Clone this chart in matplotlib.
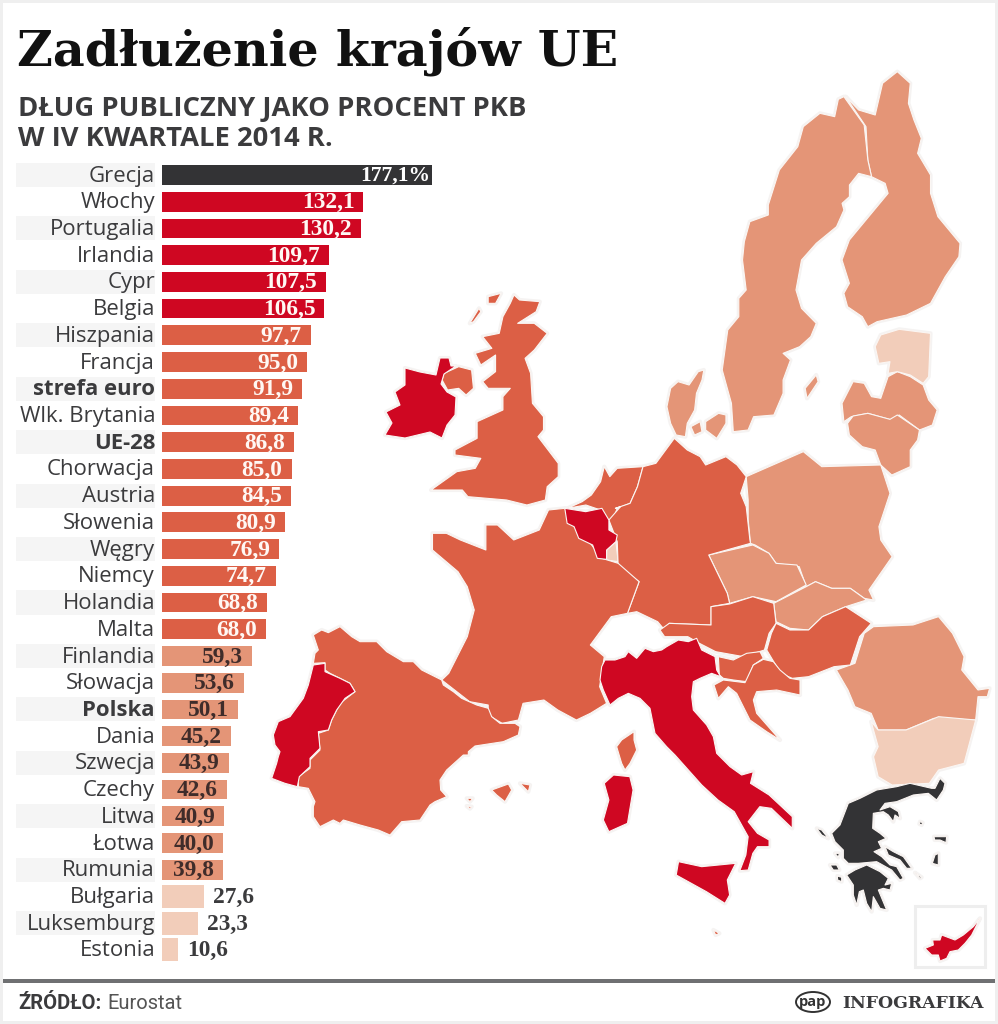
#!/usr/bin/env python3
"""Zadluzenie krajow UE: bar ranking on the left, choropleth sketch on the right."""

import matplotlib
matplotlib.use("Agg")
import matplotlib.patheffects as pe
import matplotlib.pyplot as plt
from matplotlib.patches import Ellipse, Polygon, Rectangle

W, H = 998, 1024

countries = ["Grecja", "Włochy", "Portugalia", "Irlandia", "Cypr", "Belgia", "Hiszpania",
             "Francja", "strefa euro", "Wlk. Brytania", "UE-28", "Chorwacja", "Austria",
             "Słowenia", "Węgry", "Niemcy", "Holandia", "Malta", "Finlandia", "Słowacja",
             "Polska", "Dania", "Szwecja", "Czechy", "Litwa", "Łotwa", "Rumunia",
             "Bułgaria", "Luksemburg", "Estonia"]
debt = [177.1, 132.1, 130.2, 109.7, 107.5, 106.5, 97.7, 95.0, 91.9, 89.4, 86.8, 85.0, 84.5,
        80.9, 76.9, 74.7, 68.8, 68.0, 59.3, 53.6, 50.1, 45.2, 43.9, 42.6, 40.9, 40.0, 39.8,
        27.6, 23.3, 10.6]
bold_rows = ["strefa euro", "UE-28", "Polska"]

DARK = "#333335"
RED = "#cf0722"
HIGH = "#dc5f45"
MID = "#e49577"
LOW = "#f2cdba"
TEXT = "#3b3b3d"


def band(value):
    if value > 150:
        return DARK
    if value > 100:
        return RED
    if value >= 60:
        return HIGH
    if value >= 30:
        return MID
    return LOW


def z2(points):
    return [(420 + x / 2.713, 60 + y / 3) for x, y in points]


def z3(points):
    return [(270 + x / 2.154, 500 + y / 3) for x, y in points]


def crop(x0, y0, points):
    return [(x0 + x / 3, y0 + y / 3) for x, y in points]


finland = z2([(1295, 35), (1330, 70), (1325, 130), (1340, 180), (1360, 235), (1350, 280), (1385, 345),
              (1385, 400), (1405, 470), (1465, 550), (1462, 590), (1425, 650), (1385, 730), (1320, 765),
              (1240, 785), (1215, 800), (1200, 770), (1160, 740), (1150, 700), (1165, 670), (1145, 600),
              (1165, 540), (1240, 440), (1270, 400), (1262, 370), (1225, 350), (1215, 300), (1210, 200),
              (1155, 110), (1190, 150), (1235, 165), (1255, 70)])
sweden = z2([(1135, 118), (1150, 110), (1205, 195), (1215, 300), (1225, 350), (1190, 340), (1165, 375),
             (1165, 410), (1145, 430), (1150, 450), (1130, 500), (1075, 550), (1035, 600), (1020, 690),
             (1035, 745), (1075, 790), (1060, 830), (1030, 860), (985, 880), (1005, 900), (985, 960),
             (985, 1000), (960, 1065), (905, 1070), (890, 1110), (850, 1115), (845, 1030), (820, 930),
             (835, 810), (865, 770), (865, 715), (885, 690), (875, 600), (880, 545), (895, 485),
             (945, 465), (945, 435), (975, 330), (1025, 260), (1040, 200), (1085, 160), (1125, 170)])
gotland = z2([(1045, 985), (1075, 945), (1080, 965), (1050, 1015)])
estonia = z2([(1250, 825), (1300, 808), (1385, 820), (1380, 950), (1365, 970), (1330, 945), (1295, 935),
              (1270, 940), (1275, 905), (1245, 910), (1235, 860)])
latvia = z2([(1175, 965), (1205, 970), (1225, 1010), (1250, 1015), (1270, 950), (1295, 935), (1330, 950),
             (1365, 975), (1380, 1020), (1403, 1050), (1390, 1095), (1355, 1110), (1300, 1065),
             (1280, 1080), (1215, 1060), (1170, 1070), (1150, 1085), (1145, 1030)])
lithuania = z2([(1160, 1090), (1175, 1068), (1215, 1060), (1275, 1078), (1295, 1065), (1355, 1110),
                (1350, 1140), (1330, 1170), (1330, 1220), (1280, 1245), (1250, 1215), (1235, 1170),
                (1200, 1160), (1165, 1125)])
jutland = z2([(670, 1040), (680, 985), (700, 965), (730, 975), (755, 935), (770, 930), (765, 960),
              (750, 1000), (745, 1050), (725, 1090), (720, 1130), (695, 1125), (680, 1090)])
zealand = z2([(775, 1085), (810, 1060), (830, 1065), (830, 1090), (805, 1135), (775, 1110)])
funen = z2([(735, 1100), (760, 1085), (765, 1115), (745, 1125)])
ireland = [(405, 368), (420, 372), (436, 375), (440, 358), (449, 358), (451, 366), (456, 366), (444, 374),
           (441, 384), (447, 392), (456, 397), (455, 415), (447, 425), (442, 438), (430, 432), (405, 438),
           (385, 435), (392, 423), (386, 412), (400, 405), (395, 392), (405, 385)]
n_ireland = z2([(65, 940), (105, 920), (140, 930), (145, 985), (125, 1005), (105, 985), (75, 990), (60, 960)])
britain = z2([(255, 705), (270, 720), (325, 725), (315, 755), (265, 790), (310, 790), (345, 820), (310, 870),
              (285, 895), (300, 940), (305, 1030), (335, 1070), (335, 1110), (320, 1130), (375, 1210),
              (375, 1250), (345, 1280), (340, 1320), (290, 1335), (235, 1320), (130, 1310), (115, 1290),
              (30, 1290), (100, 1235), (150, 1225), (165, 1195), (95, 1185), (95, 1170), (155, 1135),
              (155, 1085), (225, 1050), (225, 1010), (245, 985), (185, 985), (170, 965), (205, 935),
              (205, 885), (165, 915), (150, 880), (195, 865), (170, 830), (215, 820), (225, 770), (245, 730)])
hebrides1 = z2([(185, 710), (220, 700), (205, 730), (185, 730)])
hebrides2 = z2([(135, 790), (160, 745), (165, 755), (145, 785)])
netherlands = z2([(465, 1305), (490, 1265), (500, 1220), (515, 1250), (535, 1225), (605, 1220), (590, 1280),
                  (570, 1330), (535, 1345), (525, 1375), (535, 1400), (510, 1385), (490, 1350), (450, 1335),
                  (400, 1345), (440, 1325)])
belgium = z3([(635, 25), (680, 35), (715, 25), (730, 60), (730, 90), (748, 105), (745, 125), (725, 150),
              (725, 178), (705, 175), (695, 135), (665, 115), (655, 80), (640, 70)])
luxembourg = z3([(725, 150), (745, 125), (750, 185), (725, 180)])
germany = (z2([(605, 1220), (640, 1210), (690, 1135), (725, 1170), (760, 1190), (775, 1215), (830, 1190),
               (860, 1215), (885, 1250), (870, 1300), (885, 1340), (895, 1440)])
           + z3([(1035, 130), (945, 165), (985, 280), (990, 310), (950, 320), (950, 375), (860, 370), (850, 390),
                 (835, 365), (790, 335), (770, 340), (795, 245), (750, 200), (748, 125), (730, 60), (755, 20)])
           + z2([(530, 1345), (570, 1330), (590, 1280)]))
poland = (z2([(885, 1250), (1040, 1175), (1090, 1220), (1250, 1215), (1275, 1300), (1245, 1400), (1250, 1440)])
          + z3([(1340, 170), (1290, 270), (1300, 300), (1280, 295), (1250, 265), (1210, 265), (1175, 245),
                (1155, 260), (1140, 200), (1090, 190), (1075, 160), (1045, 135), (1035, 130), (1030, 60), (1030, 0)]))
czechia = z3([(945, 165), (1040, 135), (1075, 160), (1090, 190), (1135, 195), (1155, 255), (1090, 305),
              (1040, 290), (990, 310), (985, 280)])
slovakia = z3([(1155, 260), (1175, 245), (1210, 265), (1250, 265), (1285, 300), (1240, 320), (1190, 350),
               (1160, 390), (1120, 385), (1090, 365), (1085, 310)])
austria = z3([(990, 312), (1040, 290), (1085, 310), (1090, 370), (1075, 400), (1065, 450), (1020, 470),
              (960, 455), (925, 430), (900, 410), (850, 410), (840, 390), (860, 370), (950, 375), (950, 320)])
hungary = z3([(1090, 370), (1120, 390), (1160, 390), (1190, 350), (1240, 320), (1295, 370), (1270, 410),
              (1250, 495), (1215, 500), (1160, 530), (1125, 535), (1100, 520), (1070, 450), (1080, 400)])
slovenia = crop(560, 600, [(475, 170), (520, 180), (560, 160), (600, 155), (610, 175), (580, 195), (560, 245),
                           (520, 240), (490, 235), (478, 225)])
croatia = crop(560, 600, [(610, 178), (640, 185), (660, 210), (690, 235), (720, 240), (720, 285), (650, 270),
                          (590, 275), (580, 300), (590, 340), (660, 420), (620, 395), (570, 360), (530, 280),
                          (505, 260), (475, 295), (462, 255), (490, 240), (555, 248), (580, 195)])
romania = z3([(1300, 380), (1385, 375), (1440, 350), (1470, 400), (1495, 470), (1490, 510), (1525, 570),
              (1550, 565), (1545, 590), (1525, 590), (1520, 660), (1430, 655), (1370, 690), (1310, 690),
              (1295, 640), (1260, 620), (1245, 570), (1220, 510), (1260, 490), (1280, 400)])
bulgaria = z3([(1295, 665), (1310, 690), (1370, 690), (1440, 650), (1520, 660), (1495, 790), (1440, 810),
               (1420, 850), (1340, 855), (1310, 830), (1300, 770), (1310, 740)])
greece = crop(800, 770, [(405, 55), (420, 25), (435, 40), (430, 60), (410, 90), (385, 70), (340, 75), (290, 95),
                         (255, 100), (240, 120), (270, 110), (295, 125), (300, 145), (285, 135), (280, 155),
                         (265, 135), (250, 125), (220, 130), (218, 175), (240, 190), (258, 205), (235, 215),
                         (245, 235), (222, 245), (245, 260), (270, 285), (290, 290), (310, 325), (300, 330),
                         (275, 300), (230, 275), (175, 280), (145, 280), (130, 265), (130, 240), (105, 215),
                         (95, 190), (120, 165), (145, 100), (180, 85), (230, 60), (290, 50), (330, 40), (395, 55)])
peloponnese = crop(800, 770, [(140, 315), (165, 300), (200, 285), (240, 305), (265, 325), (255, 345), (275, 340),
                              (270, 360), (250, 355), (235, 360), (260, 420), (240, 415), (220, 380), (215, 425),
                              (200, 400), (190, 360), (178, 365), (170, 405), (160, 375), (160, 345)])
euboea = crop(800, 770, [(255, 230), (280, 245), (310, 260), (335, 295), (320, 295), (300, 270), (265, 255)])
corfu = crop(800, 770, [(50, 175), (65, 180), (85, 205), (65, 195)])
lefkada = crop(800, 770, [(105, 250), (118, 250), (115, 262)])
kefalonia = crop(800, 770, [(90, 285), (110, 285), (118, 300), (100, 300)])
zakynthos = crop(800, 770, [(112, 318), (125, 322), (125, 335), (113, 330)])
lesbos = crop(800, 770, [(402, 200), (440, 200), (438, 218), (420, 210), (404, 210)])
chios = crop(800, 770, [(405, 255), (415, 250), (415, 285), (397, 280)])
lemnos = crop(800, 770, [(360, 155), (368, 158), (365, 165), (358, 162)])
andros = crop(800, 770, [(345, 308), (365, 322), (360, 325)])
france = z3([(350, 100), (380, 100), (410, 120), (465, 150), (465, 75), (490, 75), (525, 120), (580, 90),
             (600, 30), (635, 25), (655, 80), (690, 130), (715, 175), (750, 190), (795, 245), (770, 340),
             (735, 350), (690, 435), (720, 470), (710, 560), (725, 610), (690, 640), (660, 660), (620, 630),
             (590, 600), (545, 610), (535, 660), (500, 670), (470, 645), (470, 615), (430, 605), (370, 540),
             (385, 520), (425, 410), (440, 330), (425, 260), (405, 215), (350, 150)])
corsica = crop(560, 600, [(222, 395), (222, 420), (230, 450), (210, 490), (195, 510), (185, 490), (170, 440), (185, 420)])
spain = crop(270, 620, [(130, 45), (155, 30), (175, 38), (210, 20), (245, 50), (270, 65), (320, 65), (350, 95),
                        (400, 125), (430, 125), (455, 150), (515, 180), (520, 195), (550, 215), (575, 235),
                        (620, 255), (655, 265), (665, 290), (690, 310), (735, 310), (750, 320), (745, 345),
                        (700, 365), (615, 378), (595, 395), (595, 405), (580, 405), (530, 450), (510, 480),
                        (512, 510), (530, 530), (495, 545), (480, 555), (450, 600), (395, 605), (360, 645),
                        (325, 630), (270, 615), (220, 600), (210, 610), (190, 600), (150, 620), (130, 590),
                        (130, 560), (135, 545), (115, 505), (85, 500), (85, 470), (120, 445), (120, 420),
                        (150, 390), (145, 340), (175, 330), (185, 300), (210, 250), (255, 215), (240, 190),
                        (210, 175), (180, 160), (165, 150), (165, 128), (130, 130), (135, 100), (145, 90)])
portugal = crop(270, 620, [(130, 135), (165, 130), (165, 155), (210, 175), (240, 190), (255, 215), (225, 235),
                           (200, 270), (185, 300), (175, 330), (145, 335), (150, 385), (120, 415), (120, 440),
                           (88, 470), (82, 500), (45, 490), (5, 475), (20, 430), (25, 410), (30, 395), (15, 375),
                           (10, 345), (25, 305), (60, 290), (100, 235), (115, 195)])
mallorca = crop(270, 620, [(665, 510), (715, 492), (725, 510), (705, 545), (680, 525)])
menorca = crop(270, 620, [(750, 490), (780, 495), (775, 515)])
ibiza = crop(270, 620, [(590, 535), (608, 535), (600, 545)])
formentera = crop(270, 620, [(590, 558), (605, 560), (600, 566)])
italy = (crop(560, 600, [(135, 180), (165, 180), (195, 170), (205, 155), (230, 175), (255, 145), (280, 155),
                         (305, 150), (320, 140), (355, 120), (385, 125), (410, 115), (425, 150), (465, 170),
                         (470, 210), (482, 230), (455, 220), (420, 235), (400, 245), (395, 290), (400, 330),
                         (440, 375), (460, 410), (470, 460), (510, 500), (545, 525), (580, 515)])
         + z3([(1035, 850), (1075, 885), (1125, 950), (1125, 985), (1080, 925), (1055, 920), (1030, 965),
               (1050, 1000), (1075, 1020), (1075, 1040), (1050, 1040), (1040, 1060), (1030, 1110), (1012, 1112),
               (1025, 1065), (1030, 1010), (1000, 935), (965, 900), (930, 855)])
         + crop(560, 600, [(345, 465), (320, 440), (285, 400), (270, 325), (240, 295), (205, 280), (175, 295),
                           (150, 315), (130, 270), (120, 240), (125, 200)]))
sicily = z3([(880, 1085), (930, 1100), (1003, 1090), (985, 1140), (990, 1185), (980, 1210), (940, 1175), (875, 1125)])
sardinia = z3([(720, 850), (740, 825), (775, 830), (782, 870), (770, 970), (730, 995), (718, 960), (730, 900)])
malta = z3([(955, 1290), (968, 1300), (960, 1305)])
cyprus = crop(800, 770, [(540, 445), (520, 470), (490, 495), (465, 510), (425, 495), (420, 510), (398, 510),
                         (400, 525), (375, 535), (395, 555), (415, 555), (420, 573), (440, 565), (450, 545),
                         (475, 540), (495, 520), (515, 495), (530, 465)])

map_shapes = [
    (MID, [finland, sweden, gotland, latvia, lithuania, jutland, zealand, funen, poland, czechia, slovakia, romania]),
    (LOW, [estonia, bulgaria, luxembourg]),
    (HIGH, [britain, n_ireland, hebrides1, hebrides2, netherlands, germany, austria, hungary, slovenia, croatia,
            france, corsica, spain, mallorca, menorca, ibiza, formentera, malta]),
    (RED, [ireland, belgium, portugal, italy, sicily, sardinia, cyprus]),
    (DARK, [greece, peloponnese, euboea, corfu, lefkada, kefalonia, zakynthos, lesbos, chios, lemnos, andros]),
]

fig = plt.figure(figsize=(W / 100, H / 100), dpi=100, facecolor="white")

# page layer in pixel coordinates
page = fig.add_axes([0, 0, 1, 1])
page.set_xlim(0, W)
page.set_ylim(H, 0)
page.axis("off")

# thin grey frame of the original graphic
page.add_patch(Rectangle((0, 0), W, 3, color="#efefef", lw=0))
page.add_patch(Rectangle((0, 0), 3, H, color="#efefef", lw=0))
page.add_patch(Rectangle((W - 3, 0), 3, H, color="#efefef", lw=0))
page.add_patch(Rectangle((0, H - 3), W, 3, color="#efefef", lw=0))

page.text(17, 66, "Zadłużenie krajów UE", family="DejaVu Serif", weight="bold", fontsize=35.5, color="#111111")
page.text(18, 116, "DŁUG PUBLICZNY JAKO PROCENT PKB", family="Open Sans", weight="bold", fontsize=19.7, color=TEXT)
page.text(18, 146, "W IV KWARTALE 2014 R.", family="Open Sans", weight="bold", fontsize=19.7, color=TEXT)

# map: first a soft halo under everything, then the fills with their thin pale borders
glow = [pe.withStroke(linewidth=3, foreground="#f5f3f2")]
for color, shapes in map_shapes:
    for shape in shapes:
        page.add_patch(Polygon(shape, closed=True, facecolor=color, edgecolor="#fbf6f3", lw=0.8,
                               joinstyle="round", path_effects=glow, zorder=3))
for color, shapes in map_shapes:
    for shape in shapes:
        page.add_patch(Polygon(shape, closed=True, facecolor=color, edgecolor="#fbf6f3", lw=0.8,
                               joinstyle="round", zorder=4))

# Cyprus inset frame
page.add_patch(Rectangle((915, 906), 70, 61, fill=False, edgecolor="#eeeeee", lw=2.2, zorder=2))

# footer
page.add_patch(Rectangle((3, 979), W - 6, 3.5, color="#6f7072", lw=0))
page.text(18, 1009, "ŹRÓDŁO:", family="Roboto", weight="bold", fontsize=14.5, color=TEXT)
page.text(107, 1009, "Eurostat", family="Roboto", fontsize=14.5, color="#555555")
page.add_patch(Ellipse((813, 1002), 34, 20, fill=False, edgecolor="#333333", lw=1.4))
page.text(813, 1002, "pap", family="Open Sans", weight="bold", fontsize=10.5, color="#333333",
          ha="center", va="center")
page.text(842, 1008, "INFOGRAFIKA", family="DejaVu Serif", weight="bold", fontsize=12.4, color=TEXT)

# bar layer: one unit of debt is 1.525 px, row pitch 26.72 px, first row centred on y=175
ppu = 1.525
pitch = 26.72
bars = fig.add_axes([0, 0, 1, 1], facecolor="none")
bars.set_xlim(-162 / ppu, (W - 162) / ppu)
bars.set_ylim((H - 175) / pitch, -175 / pitch)
bars.axis("off")

for i, (name, value) in enumerate(zip(countries, debt)):
    color = band(value)
    if i % 2 == 0:
        bars.barh(i, 139 / ppu, left=-146 / ppu, height=0.9, color="#f5f5f5", lw=0)
    bars.barh(i, value, height=0.74 if value >= 30 else 0.86, color=color, lw=0)
    bars.text(-7 / ppu, i + 0.04, name, ha="right", va="center", family="Open Sans",
              weight="bold" if name in bold_rows else "normal", fontsize=15.9, color=TEXT)

    label = f"{value:.1f}".replace(".", ",")
    if value > 150:
        bars.text(value - 1.5 / ppu, i + 0.04, label + "%", ha="right", va="center", family="Liberation Serif",
                  weight="bold", fontsize=15.5, color="white")
    elif value >= 60:
        bars.text(value - 9 / ppu, i + 0.04, label, ha="right", va="center", family="Liberation Serif",
                  weight="bold", fontsize=16.8, color="#fff8f4")
    elif value >= 30:
        bars.text(value - 9 / ppu, i + 0.04, label, ha="right", va="center", family="Liberation Serif",
                  weight="bold", fontsize=16.8, color="#3f2c2a")
    else:
        bars.text(value + 9 / ppu, i + 0.04, label, ha="left", va="center", family="Liberation Serif",
                  weight="bold", fontsize=16.8, color=TEXT)

fig.savefig("out.png", dpi=100, facecolor="white")
